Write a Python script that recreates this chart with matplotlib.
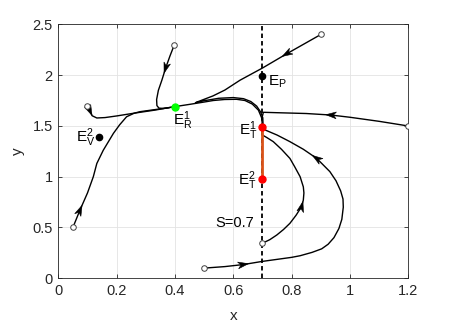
import matplotlib
matplotlib.use("Agg")
import numpy as np
import matplotlib.pyplot as plt
from matplotlib.patches import Polygon
from matplotlib.transforms import IdentityTransform

plt.rcParams['font.family'] = ['Liberation Sans', 'DejaVu Sans']
plt.rcParams['mathtext.fontset'] = 'custom'
plt.rcParams['mathtext.rm'] = 'Liberation Sans'
plt.rcParams['mathtext.it'] = 'Liberation Sans:italic'
plt.rcParams['lines.scale_dashes'] = False

# ---- data ----
xticks = [0, 0.2, 0.4, 0.6, 0.8, 1.0, 1.2]
xticklabels = ['0', '0.2', '0.4', '0.6', '0.8', '1', '1.2']
yticks = [0, 0.5, 1.0, 1.5, 2.0, 2.5]
yticklabels = ['0', '0.5', '1', '1.5', '2', '2.5']

S = 0.7

# trajectories: x, y lists
t1_x = [0.05, 0.074, 0.10, 0.12, 0.132, 0.154, 0.189, 0.21, 0.234, 0.26, 0.28, 0.33, 0.37, 0.40]
t1_y = [0.50, 0.67, 0.84, 1.00, 1.13, 1.26, 1.427, 1.51, 1.59, 1.625, 1.64, 1.66, 1.676, 1.69]

t2_x = [0.10, 0.108, 0.116, 0.132, 0.16, 0.20, 0.257, 0.33, 0.40]
t2_y = [1.70, 1.65, 1.60, 1.578, 1.582, 1.598, 1.624, 1.655, 1.69]

main_x = [0.40, 0.45, 0.50, 0.531, 0.57, 0.611, 0.64, 0.665, 0.686, 0.697, 0.70]
main_y = [1.69, 1.712, 1.735, 1.75, 1.76, 1.762, 1.75, 1.715, 1.655, 1.58, 1.50]

t3_x = [0.398, 0.383, 0.368, 0.355, 0.343, 0.337, 0.338, 0.345, 0.36, 0.38]
t3_y = [2.30, 2.19, 2.07, 1.95, 1.85, 1.76, 1.70, 1.675, 1.672, 1.68]

t4_x = [0.90, 0.783, 0.70, 0.623, 0.571, 0.53, 0.50, 0.48, 0.47, 0.50, 0.55, 0.60, 0.635, 0.66, 0.68, 0.694, 0.701, 0.702]
t4_y = [2.40, 2.21, 2.07, 1.95, 1.853, 1.795, 1.762, 1.74, 1.728, 1.748, 1.772, 1.779, 1.768, 1.74, 1.695, 1.635, 1.58, 1.50]

t5_x = [1.198, 1.10, 1.00, 0.935, 0.85, 0.75, 0.703, 0.70]
t5_y = [1.50, 1.545, 1.585, 1.607, 1.622, 1.63, 1.634, 1.60]

t6_x = [0.50, 0.571, 0.634, 0.699, 0.80, 0.829, 0.87, 0.903, 0.925, 0.945, 0.962, 0.972, 0.977, 0.976, 0.968, 0.952, 0.931, 0.886, 0.84, 0.794, 0.75, 0.709, 0.70]
t6_y = [0.10, 0.115, 0.135, 0.166, 0.206, 0.222, 0.255, 0.29, 0.335, 0.40, 0.49, 0.58, 0.70, 0.78, 0.86, 0.96, 1.05, 1.18, 1.27, 1.345, 1.41, 1.46, 1.49]

t7_x = [0.699, 0.725, 0.749, 0.772, 0.794, 0.815, 0.834, 0.84, 0.842, 0.84, 0.829, 0.81, 0.794, 0.765, 0.737, 0.715, 0.70]
t7_y = [0.344, 0.38, 0.426, 0.48, 0.541, 0.62, 0.705, 0.77, 0.84, 0.90, 1.00, 1.10, 1.18, 1.27, 1.345, 1.385, 1.41]

starts_x = [0.05, 0.10, 0.398, 0.90, 1.198, 0.50, 0.699]
starts_y = [0.50, 1.70, 2.30, 2.40, 1.50, 0.10, 0.344]

# equilibria
ER = (0.40, 1.69)
ET1 = (0.70, 1.49)
ET2 = (0.70, 0.977)
EP = (0.70, 1.99)
EV2 = (0.14, 1.39)

# ---- figure ----
fig = plt.figure(figsize=(4.5, 3.27), dpi=100)
ax = fig.add_axes([0.1296, 0.149, 0.7778, 0.7766])

ax.set_xlim(0, 1.2)
ax.set_ylim(0, 2.5)
ax.set_xticks(xticks)
ax.set_xticklabels(xticklabels)
ax.set_yticks(yticks)
ax.set_yticklabels(yticklabels)
ax.grid(True, color='#e3e3e3', lw=0.6)
ax.set_axisbelow(True)
for sp in ax.spines.values():
    sp.set_color('#262626')
    sp.set_linewidth(0.6)
ax.tick_params(direction='in', length=3, width=0.6, colors='#262626',
               labelsize=10.5, labelcolor='#262626', pad=4,
               top=True, right=True)
ax.set_xlabel('x', fontsize=11, color='#262626', labelpad=8)
ax.set_ylabel('y', fontsize=11, color='#262626', labelpad=5)

# dashed switching line
ax.plot([S, S], [0, 2.5], color='k', lw=1.3, ls=(0, (3.2, 2.2)), zorder=2)

lw = 1.0
for xs, ys in [(t1_x, t1_y), (t2_x, t2_y), (main_x, main_y), (t3_x, t3_y),
               (t4_x, t4_y), (t5_x, t5_y), (t6_x, t6_y), (t7_x, t7_y)]:
    ax.plot(xs, ys, color='k', lw=lw, zorder=3, solid_capstyle='round',
            solid_joinstyle='round')

# sliding segment
ax.plot([ET1[0], ET2[0]], [ET1[1], ET2[1]], color='#D95319', lw=2.0, zorder=4)


def arrow(xs, ys, i, L=10.5, W=3.4, notch=3.0):
    """stealth arrowhead centred on point i, pointing toward point i+1"""
    p0 = ax.transData.transform((xs[i], ys[i]))
    p1 = ax.transData.transform((xs[i + 1], ys[i + 1]))
    d = p1 - p0
    d = d / np.hypot(*d)
    n = np.array([-d[1], d[0]])
    tip = p0 + d * L * 0.5
    back = p0 - d * L * 0.5
    pts = [tip, back + n * W, back + d * notch, back - n * W]
    ax.add_patch(Polygon(pts, closed=True, transform=IdentityTransform(),
                         facecolor='k', edgecolor='k', lw=0.4, zorder=5))


arrow(t1_x, t1_y, 1)
arrow(t2_x, t2_y, 1)
arrow(t3_x, t3_y, 2)
arrow(t4_x, t4_y, 1)
arrow(t5_x, t5_y, 3)
arrow(t6_x, t6_y, 2)
arrow(t6_x, t6_y, 17)
arrow(t7_x, t7_y, 6)

# start points
ax.plot(starts_x, starts_y, ls='none', marker='o', ms=4, mfc='white',
        mec='#404040', mew=0.7, zorder=6)

# equilibria
ax.plot(*ER, marker='o', ms=5, color='#00ff00', zorder=7)
ax.plot(*ET1, marker='o', ms=5, color='#ff0000', zorder=7)
ax.plot(*ET2, marker='o', ms=5, color='#ff0000', zorder=7)
ax.plot(*EP, marker='o', ms=4.5, color='k', zorder=7)
ax.plot(*EV2, marker='o', ms=4.5, color='k', zorder=7)

fs = 11
ax.text(0.393, 1.509, r'E$_\mathrm{R}^\mathrm{1}$', fontsize=fs, va='baseline', zorder=8)
ax.text(0.618, 1.41, r'E$_\mathrm{T}^\mathrm{1}$', fontsize=fs, va='baseline', zorder=8)
ax.text(0.616, 0.918, r'E$_\mathrm{T}^\mathrm{2}$', fontsize=fs, va='baseline', zorder=8)
ax.text(0.061, 1.345, r'E$_\mathrm{V}^\mathrm{2}$', fontsize=fs, va='baseline', zorder=8)
ax.text(0.72, 1.893, r'E$_\mathrm{P}$', fontsize=fs, va='baseline', zorder=8)
ax.text(0.537, 0.50, 'S=0.7', fontsize=10.5, va='baseline', zorder=8)

fig.savefig('out.png', dpi=100)
